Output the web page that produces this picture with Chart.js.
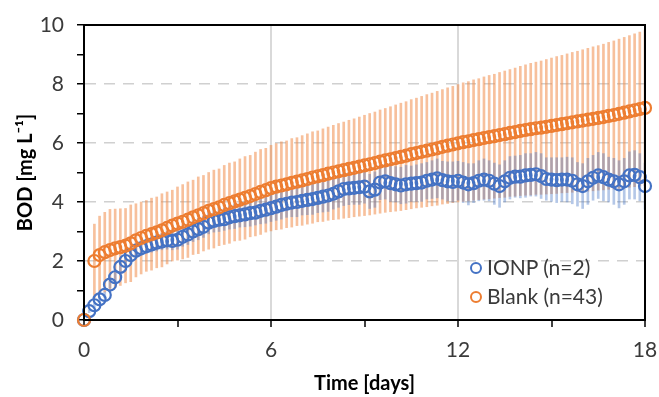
<!DOCTYPE html>
<html>
<head>
<meta charset="utf-8">
<script src="https://cdn.jsdelivr.net/npm/chart.js@4.4.1/dist/chart.umd.min.js"></script>
<style>
  body { margin: 0; background: #fff; }
  #wrap { position: relative; width: 659px; height: 397px; }
  #legend { position: absolute; left: 470px; top: 252px; font-family: Lato, "Liberation Sans", sans-serif; font-size: 21px; color: #3a3a3a; }
  #legend div { height: 29px; line-height: 29px; white-space: nowrap; }
  #legend span.mk { display: inline-block; width: 8px; height: 8px; border: 2px solid; border-radius: 50%; margin-right: 5px; vertical-align: 1px; }
</style>
</head>
<body>
<div id="wrap">
  <canvas id="grafica" width="659" height="397"></canvas>
  <div id="legend"></div>
</div>
<script>
// sampling times (hours)
var hours = [
  0, 4, 8, 12, 16, 20,
  24, 28, 32, 36, 40, 44,
  48, 52, 56, 60, 64, 68,
  72, 76, 80, 84, 88, 92,
  96, 100, 104, 108, 112, 116,
  120, 124, 128, 132, 136, 140,
  144, 148, 152, 156, 160, 164,
  168, 172, 176, 180, 184, 188,
  192, 196, 200, 204, 208, 212,
  216, 220, 224, 228, 232, 236,
  240, 244, 248, 252, 256, 260,
  264, 268, 272, 276, 280, 284,
  288, 292, 296, 300, 304, 308,
  312, 316, 320, 324, 328, 332,
  336, 340, 344, 348, 352, 356,
  360, 364, 368, 372, 376, 380,
  384, 388, 392, 396, 400, 404,
  408, 412, 416, 420, 424, 428,
  432
];

var ionpBOD = [
  0, 0.30, 0.50, 0.70, 0.85, 1.20,
  1.45, 1.80, 2.00, 2.20, 2.35, 2.43,
  2.50, 2.56, 2.62, 2.66, 2.70, 2.68,
  2.72, 2.82, 2.90, 3.00, 3.08, 3.16,
  3.30, 3.36, 3.40, 3.42, 3.48, 3.52,
  3.55, 3.58, 3.62, 3.64, 3.70, 3.74,
  3.79, 3.84, 3.90, 3.94, 3.98, 4.00,
  4.04, 4.07, 4.10, 4.14, 4.18, 4.22,
  4.28, 4.36, 4.44, 4.46, 4.48, 4.50,
  4.52, 4.36, 4.42, 4.66, 4.70, 4.64,
  4.60, 4.56, 4.60, 4.62, 4.64, 4.66,
  4.72, 4.76, 4.80, 4.74, 4.70, 4.68,
  4.72, 4.66, 4.60, 4.64, 4.72, 4.76,
  4.72, 4.62, 4.54, 4.70, 4.82, 4.86,
  4.86, 4.90, 4.92, 4.94, 4.88, 4.78,
  4.76, 4.74, 4.76, 4.76, 4.72, 4.60,
  4.54, 4.70, 4.82, 4.90, 4.84, 4.76,
  4.70, 4.60, 4.70, 4.90, 4.92, 4.84,
  4.54
];
var ionpSD = [
  0, 0.05, 0.08, 0.10, 0.10, 0.12,
  0.15, 0.18, 0.20, 0.22, 0.22, 0.24,
  0.25, 0.26, 0.28, 0.28, 0.30, 0.30,
  0.32, 0.32, 0.34, 0.34, 0.36, 0.36,
  0.38, 0.38, 0.40, 0.38, 0.40, 0.42,
  0.40, 0.42, 0.44, 0.42, 0.44, 0.46,
  0.45, 0.46, 0.48, 0.46, 0.48, 0.50,
  0.48, 0.50, 0.52, 0.50, 0.52, 0.54,
  0.52, 0.54, 0.56, 0.55, 0.56, 0.58,
  0.56, 0.58, 0.60, 0.58, 0.60, 0.62,
  0.60, 0.62, 0.64, 0.60, 0.62, 0.64,
  0.62, 0.64, 0.66, 0.64, 0.66, 0.68,
  0.66, 0.68, 0.70, 0.66, 0.68, 0.70,
  0.68, 0.70, 0.72, 0.70, 0.72, 0.70,
  0.72, 0.74, 0.72, 0.74, 0.76, 0.72,
  0.74, 0.76, 0.74, 0.76, 0.78, 0.74,
  0.76, 0.78, 0.76, 0.78, 0.80, 0.76,
  0.78, 0.80, 0.78, 0.80, 0.82, 0.80,
  0.78
];

var blankBOD = [
  0, null, 2.00, 2.20, 2.30, 2.37,
  2.43, 2.47, 2.52, 2.60, 2.70, 2.78,
  2.85, 2.91, 2.97, 3.04, 3.12, 3.20,
  3.27, 3.33, 3.40, 3.48, 3.55, 3.62,
  3.70, 3.76, 3.82, 3.90, 3.96, 4.02,
  4.08, 4.14, 4.20, 4.27, 4.34, 4.40,
  4.47, 4.52, 4.56, 4.60, 4.65, 4.69,
  4.73, 4.78, 4.83, 4.87, 4.91, 4.96,
  5.00, 5.04, 5.08, 5.12, 5.16, 5.20,
  5.24, 5.28, 5.32, 5.37, 5.41, 5.45,
  5.49, 5.53, 5.57, 5.62, 5.66, 5.70,
  5.74, 5.78, 5.82, 5.87, 5.91, 5.95,
  5.99, 6.03, 6.06, 6.10, 6.13, 6.17,
  6.20, 6.23, 6.27, 6.30, 6.34, 6.37,
  6.41, 6.44, 6.47, 6.50, 6.52, 6.55,
  6.58, 6.61, 6.64, 6.67, 6.70, 6.73,
  6.76, 6.79, 6.82, 6.85, 6.88, 6.92,
  6.95, 6.99, 7.03, 7.07, 7.11, 7.15,
  7.19
];
var blankSD = [
  0, null, 1.25, 1.32, 1.35, 1.38,
  1.33, 1.30, 1.26, 1.30, 1.24, 1.22,
  1.20, 1.22, 1.20, 1.24, 1.22, 1.20,
  1.24, 1.26, 1.28, 1.26, 1.30, 1.28,
  1.30, 1.32, 1.30, 1.34, 1.36, 1.34,
  1.38, 1.40, 1.38, 1.42, 1.44, 1.42,
  1.45, 1.46, 1.48, 1.47, 1.50, 1.49,
  1.52, 1.53, 1.55, 1.54, 1.57, 1.58,
  1.60, 1.62, 1.63, 1.65, 1.66, 1.68,
  1.70, 1.72, 1.73, 1.75, 1.76, 1.78,
  1.80, 1.82, 1.83, 1.85, 1.86, 1.88,
  1.90, 1.91, 1.93, 1.94, 1.96, 1.97,
  1.99, 2.01, 2.02, 2.04, 2.05, 2.07,
  2.09, 2.10, 2.12, 2.14, 2.15, 2.17,
  2.19, 2.21, 2.23, 2.24, 2.26, 2.28,
  2.30, 2.32, 2.33, 2.35, 2.37, 2.38,
  2.40, 2.42, 2.44, 2.45, 2.47, 2.49,
  2.51, 2.53, 2.55, 2.57, 2.59, 2.61,
  2.64
];

var seriesLabels = ['IONP (n=2)', 'Blank (n=43)'];
var colores = ['#4472C4', '#ED7D31'];
var xTitulo = 'Time [days]';
var yTitulo = 'BOD [mg L\u207B\u00B9]';

var fuente = 'Lato, "Liberation Sans", sans-serif';

function puntos(valores) {
  var out = [];
  hours.forEach(function(h, i) {
    if (valores[i] !== null) out.push({ x: h / 24, y: valores[i] });
  });
  return out;
}
function barras(valores, sd) {
  var out = [];
  hours.forEach(function(h, i) {
    if (valores[i] !== null && sd[i]) out.push({ x: h / 24, y: [valores[i] - sd[i], valores[i] + sd[i]] });
  });
  return out;
}

var marco = {
  id: 'marco',
  afterDraw: function(chart) {
    var a = chart.chartArea, ctx = chart.ctx;
    ctx.save();
    ctx.strokeStyle = '#000';
    ctx.lineWidth = 2;
    ctx.strokeRect(a.left, a.top, a.right - a.left, a.bottom - a.top);
    ctx.restore();
  }
};

var ctx = document.getElementById('grafica').getContext('2d');
var grafica = new Chart(ctx, {
  type: 'scatter',
  data: {
    datasets: [
      {
        label: seriesLabels[0], data: puntos(ionpBOD), order: 1,
        borderColor: colores[0], backgroundColor: 'rgba(0,0,0,0)',
        pointRadius: 6, pointBorderWidth: 2.2, clip: false
      },
      {
        label: seriesLabels[1], data: puntos(blankBOD), order: 0,
        borderColor: colores[1], backgroundColor: 'rgba(0,0,0,0)',
        pointRadius: 6, pointBorderWidth: 2.2, clip: false
      },
      {
        type: 'bar', label: 'ionp-sd', data: barras(ionpBOD, ionpSD), order: 2,
        backgroundColor: 'rgba(68,114,196,0.4)', borderWidth: 0,
        barThickness: 2, grouped: false
      },
      {
        type: 'bar', label: 'blank-sd', data: barras(blankBOD, blankSD), order: 3,
        backgroundColor: 'rgba(240,140,75,0.55)', borderWidth: 0,
        barThickness: 2, grouped: false
      }
    ]
  },
  options: {
    responsive: false,
    animation: false,
    layout: { padding: { top: 25, right: 14, left: 0, bottom: 0 } },
    plugins: { legend: { display: false }, tooltip: { enabled: false } },
    scales: {
      x: {
        type: 'linear', min: 0, max: 18, offset: false,
        afterFit: function(s) { s.height = 77; s.paddingLeft = 0; s.paddingRight = 0; },
        ticks: {
          stepSize: 3, autoSkip: false, maxRotation: 0, padding: 11,
          callback: function(v) { return v % 6 === 0 ? v : ''; },
          font: { family: fuente, size: 21 }, color: '#3a3a3a'
        },
        grid: {
          offset: false,
          color: function(c) { return c.tick && (c.tick.value === 6 || c.tick.value === 12) ? '#D9D9D9' : 'rgba(0,0,0,0)'; },
          lineWidth: 2, tickColor: '#000', tickWidth: 1.5, tickLength: 7
        },
        border: { color: '#000', width: 2 },
        title: { display: true, text: xTitulo, color: '#000', font: { family: fuente, size: 20, weight: 'bold' }, padding: { bottom: 1, top: 0 } }
      },
      y: {
        min: 0, max: 10,
        afterFit: function(s) { s.width = 84; s.paddingTop = 0; s.paddingBottom = 0; },
        ticks: {
          stepSize: 1, autoSkip: false, padding: 13,
          callback: function(v) { return v % 2 === 0 ? v : ''; },
          font: { family: fuente, size: 21 }, color: '#3a3a3a'
        },
        grid: {
          color: function(c) { var v = c.tick ? c.tick.value : 0; return (v % 2 === 0 && v > 0 && v < 10) ? '#D0D0D0' : 'rgba(0,0,0,0)'; },
          lineWidth: 1.5, tickColor: '#000', tickWidth: 1.5, tickLength: 7, tickBorderDash: []
        },
        border: { color: '#000', width: 2, dash: [11, 8] },
        title: { display: true, text: yTitulo, color: '#000', font: { family: fuente, size: 20, weight: 'bold' }, padding: { top: 14, bottom: 0 } }
      }
    }
  },
  plugins: [marco]
});

// leyenda en html
var leyenda = document.getElementById('legend');
seriesLabels.forEach(function(txt, i) {
  var fila = document.createElement('div');
  var mk = document.createElement('span');
  mk.className = 'mk';
  mk.style.borderColor = colores[i];
  fila.appendChild(mk);
  fila.appendChild(document.createTextNode(txt));
  leyenda.appendChild(fila);
});
</script>
</body>
</html>
